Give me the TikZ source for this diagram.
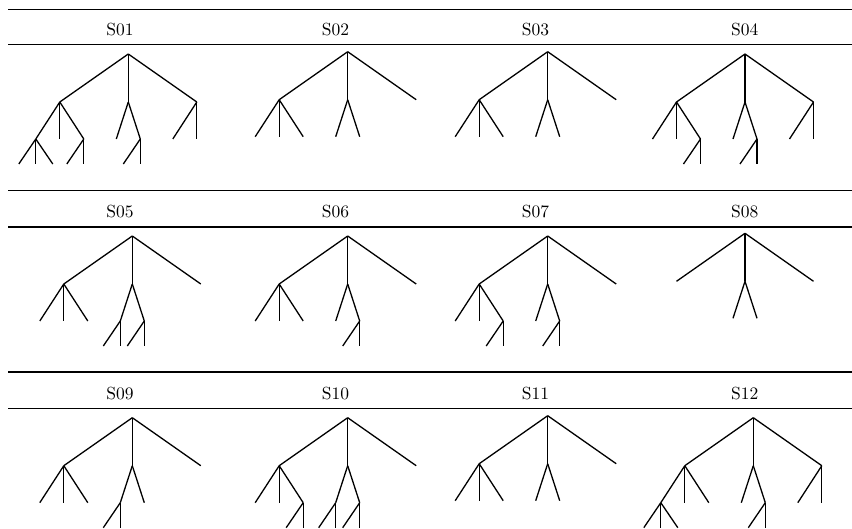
\documentclass[tikz,border=0pt]{standalone}
\usepackage{tikz}
\usetikzlibrary{trees}

\tikzset{
  rule/.style={line width=1.6pt},
  title/.style={scale=1.75, inner sep=0pt},
  tree/.style={line width=1.3pt,
    edge from parent/.style={draw, line width=1.3pt},
    level 1/.style={sibling distance=68.5pt, level distance=48pt},
    level 2/.style={sibling distance=24pt, level distance=37pt},
    level 3/.style={sibling distance=17pt, level distance=25pt}}
}

\begin{document}
\begin{tikzpicture}[x=1pt,y=-1pt]
\useasboundingbox (0,0) rectangle (852,528);
\clip (0,0) rectangle (852,528);
% header rules
\foreach \yt/\yb in {9.3/44.3, 190.3/226.7, 372/408.3}{
  \draw[rule] (8,\yt) -- (852,\yt);
  \draw[rule] (8,\yb) -- (852,\yb);
}
% titles
\foreach \n/\x/\y in {01/120/29.3, 02/335.5/29.3, 03/535.5/29.3, 04/744.8/29.3,
                      05/120/211.7, 06/335.5/211.7, 07/535.5/211.7, 08/744.8/211.7,
                      09/120/393.3, 10/335.5/393.3, 11/535.5/393.3, 12/744.8/393.3}
  \node[title] (t\n) at (\x,\y) {S\n};

% row 1
\path[tree] (128.3,54) coordinate (s01)
  child {child {child child child} child child {child child child[missing]}}
  child {child child {child child child[missing]}}
  child {child child child[missing]};
\path[tree] (347.7,51.7) coordinate (s02)
  child {child child child}
  child {child child}
  child;
\path[tree] (547.7,51.7) coordinate (s03)
  child {child child child}
  child {child child}
  child;
\path[tree] (745,54) coordinate (s04)
  child {child child child {child child child[missing]}}
  child {child child {child child child[missing]}}
  child {child child child[missing]};

% row 2
\path[tree] (132.3,236) coordinate (s05)
  child {child child child}
  child {child {child child child[missing]} child {child child child[missing]}}
  child;
\path[tree] (347.7,236) coordinate (s06)
  child {child child child}
  child {child child {child child child[missing]}}
  child;
\path[tree] (547.7,236) coordinate (s07)
  child {child child child {child child child[missing]}}
  child {child child {child child child[missing]}}
  child;
\path[tree] (745,233.3) coordinate (s08)
  child
  child {child child}
  child;

% row 3
\path[tree] (132.3,417.7) coordinate (s09)
  child {child child child}
  child {child {child child child[missing]} child}
  child;
\path[tree] (347.7,417.7) coordinate (s10)
  child {child child child {child child child[missing]}}
  child {child {child child child[missing]} child {child child child[missing]}}
  child;
\path[tree] (547.7,415.7) coordinate (s11)
  child {child child child}
  child {child child}
  child;
\path[tree] (753.3,417.7) coordinate (s12)
  child {child {child child child} child child}
  child {child child {child child child[missing]}}
  child {child child child[missing]};
\end{tikzpicture}
\end{document}
